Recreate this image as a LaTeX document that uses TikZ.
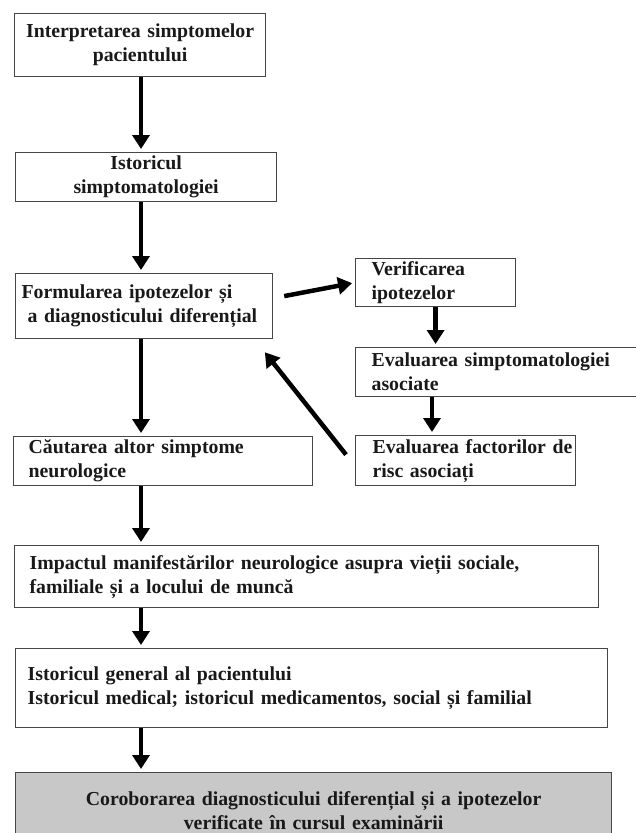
\documentclass[tikz,border=0pt]{standalone}
\usepackage{fontspec}
\setmainfont{Liberation Serif}
\usepackage{tikz}
\usetikzlibrary{arrows.meta}
\definecolor{boxline}{RGB}{70,70,70}
\definecolor{boxtext}{RGB}{25,25,25}
\definecolor{boxgrey}{RGB}{200,200,200}
\tikzset{
  flbox/.style={draw=boxline,line width=1.2pt,fill=white,anchor=north west,
    inner ysep=0pt,inner xsep=15pt,align=left,text=boxtext,
    font=\fontsize{19.8}{24}\selectfont\bfseries},
  flarrow/.style={line width=4.5pt,-{Triangle[length=14pt,width=17pt]},shorten >=3pt},
}

\begin{document}
\begin{tikzpicture}[x=1pt,y=-1pt]
  \useasboundingbox (0,0) rectangle (636,833);
  \node[flbox,align=center,inner xsep=4pt,text width=243pt,minimum height=63pt] (interp) at (14,13)
    {Interpretarea simptomelor\\pacientului};
  \node[flbox,align=center,inner xsep=4pt,text width=253pt,minimum height=49pt] (istoric) at (15,152)
    {Istoricul\\simptomatologiei};
  \node[flbox,inner xsep=6pt,text width=245pt,minimum height=65pt] (formul) at (15,273)
    {Formularea ipotezelor și\\\hspace*{6pt}a diagnosticului diferențial};
  \node[flbox,inner xsep=16pt,text width=128pt,minimum height=48pt] (verif) at (355,258)
    {Verificarea\\ipotezelor};
  \node[flbox,inner xsep=16pt,text width=258pt,minimum height=49pt] (evalsimpt) at (355,347)
    {Evaluarea simptomatologiei\\asociate};
  \node[flbox,inner xsep=3pt,text width=214pt,minimum height=50pt] (evalfact) at (355,435)
    {\hspace*{14pt}Evaluarea factorilor de\\\hspace*{14pt}risc asociați};
  \node[flbox,text width=269pt,minimum height=49pt] (cautare) at (13,436)
    {Căutarea altor simptome\\neurologice};
  \node[flbox,text width=554pt,minimum height=62pt] (impact) at (14,545)
    {Impactul manifestărilor neurologice asupra vieții sociale,\\familiale și a locului de muncă};
  \node[flbox,inner xsep=12pt,text width=568pt,minimum height=79pt] (istgen) at (15,648)
    {Istoricul general al pacientului\\Istoricul medical; istoricul medicamentos, social și familial};
  \node[flbox,fill=boxgrey,align=center,inner xsep=4pt,text width=588pt,minimum height=76pt] (corob) at (15,772)
    {Coroborarea diagnosticului diferențial și a ipotezelor\\verificate în cursul examinării};
  \coordinate (spine) at (141,0);
  \coordinate (rspine) at (432,0);
  \coordinate (fbtip) at (263,350);
  \draw[flarrow] (interp.south -| spine) -- (istoric.north -| spine);
  \foreach \a/\b in {istoric/formul,formul/cautare,cautare/impact,impact/istgen,istgen/corob}{%
    \draw[flarrow] (\a.south -| spine) -- (\b.north -| spine);
  }
  \draw[flarrow] ([shift={(11pt,10pt)}]formul.east) -- (verif.west);
  \draw[flarrow] (verif.south) -- (verif.south |- evalsimpt.north);
  \draw[flarrow] (evalsimpt.south -| rspine) -- (evalfact.north -| rspine);
  \draw[flarrow] ([shift={(-9pt,6pt)}]evalfact.west) -- (fbtip);
\end{tikzpicture}
\end{document}
